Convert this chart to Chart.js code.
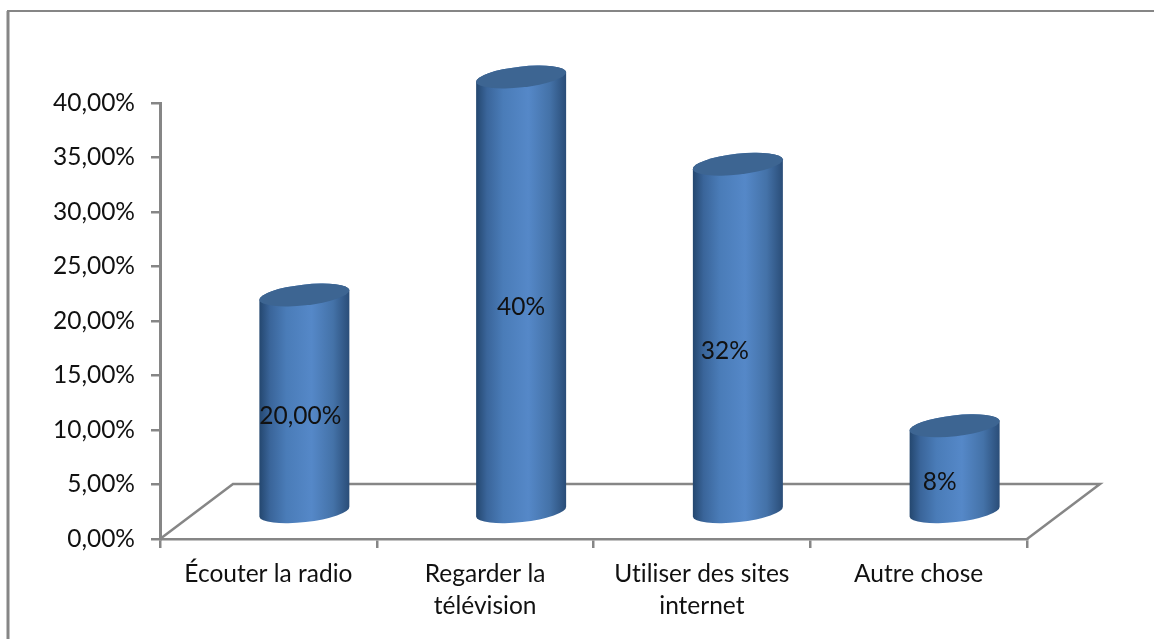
<!DOCTYPE html>
<html>
<head>
<meta charset="utf-8">
<script src="https://cdn.jsdelivr.net/npm/chart.js@4"></script>
<style>
  html, body { margin: 0; padding: 0; background: #fff; overflow: hidden; }
  canvas { display: block; }
</style>
</head>
<body>
<canvas id="graphChart" width="1154" height="639"></canvas>
<script>
const categories = [['Écouter la radio'], ['Regarder la', 'télévision'], ['Utiliser des sites', 'internet'], ['Autre chose']];
const values = [20, 40, 32, 8];
const valueLabels = ['20,00%', '40%', '32%', '8%'];
const tickStep = 5;
const tickMax = 40;

const lineColor = '#868686';
const fontFamily = 'Lato, "Open Sans", sans-serif';

// excel 3d look: the columns stand on a floor that is pushed back and to the right
const depthX = 73;
const depthY = 55;
const standX = 36;
const standY = 26;
const labelShiftX = [-4, 0, -13, -15];
const labelShiftY = 13;

const frame = {
  id: 'frame',
  beforeDraw: chart => {
    const c = chart.ctx;
    // lato would join "ti" otherwise
    c.textRendering = 'optimizeSpeed';
    c.save();
    c.fillStyle = '#fff';
    c.fillRect(0, 0, chart.width, chart.height);
    c.strokeStyle = lineColor;
    c.lineWidth = 3;
    c.beginPath();
    c.moveTo(8, chart.height);
    c.lineTo(8, 11);
    c.stroke();
    c.lineWidth = 2;
    c.beginPath();
    c.moveTo(7, 11);
    c.lineTo(chart.width, 11);
    c.stroke();
    c.restore();
  },
  // floor edges go under the columns
  beforeDatasetsDraw: chart => {
    const c = chart.ctx;
    const a = chart.chartArea;
    c.save();
    c.strokeStyle = lineColor;
    c.lineWidth = 2.5;
    c.beginPath();
    c.moveTo(a.left, a.bottom);
    c.lineTo(a.left + depthX, a.bottom - depthY);
    c.lineTo(a.right + depthX, a.bottom - depthY);
    c.lineTo(a.right, a.bottom);
    c.stroke();
    c.restore();
  }
};

const cylinders = {
  id: 'cylinders',
  afterDatasetsDraw: chart => {
    const c = chart.ctx;
    const tilt = -0.11;
    chart.getDatasetMeta(0).data.forEach((bar, i) => {
      const cx = bar.x + standX;
      const rx = bar.width / 2 / Math.cos(tilt);
      const ry = 10.4;
      const top = bar.y - standY;
      const bottom = bar.base - standY;
      const left = cx - bar.width / 2;
      const right = cx + bar.width / 2;

      const body = c.createLinearGradient(left, 0, right, 0);
      body.addColorStop(0, '#24476f');
      body.addColorStop(0.12, '#3a659a');
      body.addColorStop(0.3, '#4a7cb8');
      body.addColorStop(0.58, '#5588c8');
      body.addColorStop(0.82, '#4472a8');
      body.addColorStop(1, '#2a4d78');

      c.save();
      c.fillStyle = body;
      c.beginPath();
      c.ellipse(cx, bottom, rx, ry, tilt, 0, Math.PI);
      c.ellipse(cx, top, rx, ry, tilt, Math.PI, Math.PI * 2);
      c.closePath();
      c.fill();

      c.fillStyle = '#3d6592';
      c.beginPath();
      c.ellipse(cx, top, rx, ry, tilt, 0, Math.PI * 2);
      c.fill();

      c.fillStyle = '#111';
      c.font = '24.5px ' + fontFamily;
      c.textAlign = 'center';
      c.textBaseline = 'middle';
      c.fillText(valueLabels[i], cx + labelShiftX[i], (top + bottom) / 2 + labelShiftY);
      c.restore();
    });
  }
};

const ctx = document.getElementById('graphChart').getContext('2d');
new Chart(ctx, {
  type: 'bar',
  data: {
    labels: categories,
    datasets: [{
      data: values,
      backgroundColor: 'rgba(0, 0, 0, 0)',
      barThickness: 90
    }]
  },
  options: {
    responsive: false,
    animation: false,
    devicePixelRatio: 1,
    layout: { padding: { top: 103, right: 127, left: 0, bottom: 0 } },
    plugins: {
      legend: { display: false },
      tooltip: { enabled: false }
    },
    scales: {
      x: {
        afterFit: scale => { scale.height = 100; },
        grid: { drawOnChartArea: false, color: lineColor, lineWidth: 2.5, tickLength: 9 },
        border: { color: lineColor, width: 2.5 },
        ticks: { color: '#111', maxRotation: 0, autoSkip: false, padding: 10, font: { family: fontFamily, size: 24.5, lineHeight: 1.32 } }
      },
      y: {
        min: 0,
        max: tickMax,
        afterFit: scale => { scale.width = 160; },
        grid: { drawOnChartArea: false, color: lineColor, lineWidth: 2.5, tickLength: 9 },
        border: { color: lineColor, width: 3 },
        ticks: {
          stepSize: tickStep,
          color: '#111',
          padding: 16,
          font: { family: fontFamily, size: 24.5 },
          callback: v => v.toFixed(2).replace('.', ',') + '%'
        }
      }
    }
  },
  plugins: [frame, cylinders]
});
</script>
</body>
</html>
